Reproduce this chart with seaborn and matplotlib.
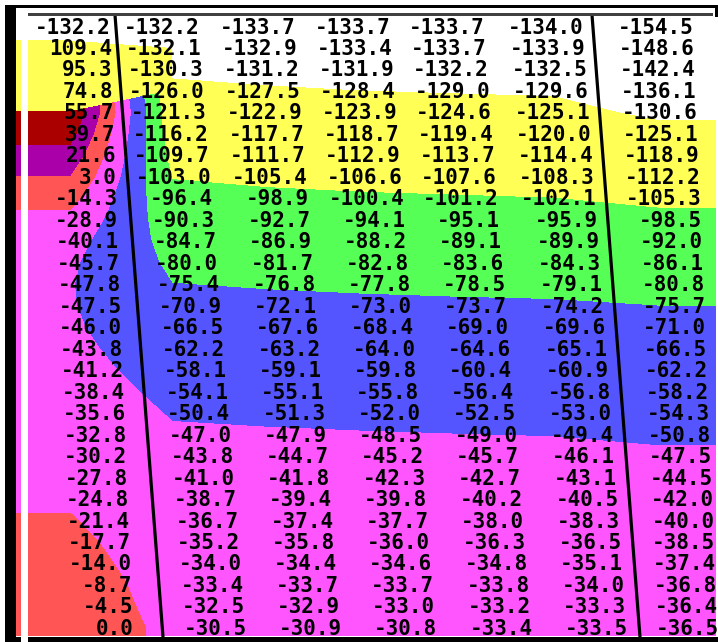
import numpy as np
import matplotlib
matplotlib.use("Agg")
import matplotlib.pyplot as plt
from matplotlib.patches import Rectangle
import seaborn as sns

# Table values, one list per column (top row first)
col_0 = [-132.2, 109.4, 95.3, 74.8, 55.7, 39.7, 21.6, 3.0, -14.3, -28.9, -40.1, -45.7,
         -47.8, -47.5, -46.0, -43.8, -41.2, -38.4, -35.6, -32.8, -30.2, -27.8, -24.8,
         -21.4, -17.7, -14.0, -8.7, -4.5, 0.0]
col_1 = [-132.2, -132.1, -130.3, -126.0, -121.3, -116.2, -109.7, -103.0, -96.4, -90.3,
         -84.7, -80.0, -75.4, -70.9, -66.5, -62.2, -58.1, -54.1, -50.4, -47.0, -43.8,
         -41.0, -38.7, -36.7, -35.2, -34.0, -33.4, -32.5, -30.5]
col_2 = [-133.7, -132.9, -131.2, -127.5, -122.9, -117.7, -111.7, -105.4, -98.9, -92.7,
         -86.9, -81.7, -76.8, -72.1, -67.6, -63.2, -59.1, -55.1, -51.3, -47.9, -44.7,
         -41.8, -39.4, -37.4, -35.8, -34.4, -33.7, -32.9, -30.9]
col_3 = [-133.7, -133.4, -131.9, -128.4, -123.9, -118.7, -112.9, -106.6, -100.4, -94.1,
         -88.2, -82.8, -77.8, -73.0, -68.4, -64.0, -59.8, -55.8, -52.0, -48.5, -45.2,
         -42.3, -39.8, -37.7, -36.0, -34.6, -33.7, -33.0, -30.8]
col_4 = [-133.7, -133.7, -132.2, -129.0, -124.6, -119.4, -113.7, -107.6, -101.2, -95.1,
         -89.1, -83.6, -78.5, -73.7, -69.0, -64.6, -60.4, -56.4, -52.5, -49.0, -45.7,
         -42.7, -40.2, -38.0, -36.3, -34.8, -33.8, -33.2, -33.4]
col_5 = [-134.0, -133.9, -132.5, -129.6, -125.1, -120.0, -114.4, -108.3, -102.1, -95.9,
         -89.9, -84.3, -79.1, -74.2, -69.6, -65.1, -60.9, -56.8, -53.0, -49.4, -46.1,
         -43.1, -40.5, -38.3, -36.5, -35.1, -34.0, -33.3, -33.5]
col_6 = [-154.5, -148.6, -142.4, -136.1, -130.6, -125.1, -118.9, -112.2, -105.3, -98.5,
         -92.0, -86.1, -80.8, -75.7, -71.0, -66.5, -62.2, -58.2, -54.3, -50.8, -47.5,
         -44.5, -42.0, -40.0, -38.5, -37.4, -36.8, -36.4, -36.5]

# Colour bands of the shaded field; values above the last edge use the overflow colour
band_edges = [-200.0, -128.3, -102.0, -75.5, -49.0, -22.5, 4.0, 30.5, 57.0]
band_colours = sns.color_palette(["#FFFFFF", "#FFFF55", "#55FF55", "#5555FF",
                                  "#FF55FF", "#FF5555", "#AA00AA", "#AA0000"])
overflow_colour = "#FFFF55"

sns.set_theme(style="white")

W, H = 718, 642
fig = plt.figure(figsize=(W / 100, H / 100), dpi=100)
fig.patch.set_facecolor("white")
ax = fig.add_axes([0, 0, 1, 1])

columns = [col_0, col_1, col_2, col_3, col_4, col_5, col_6]
table = np.column_stack(columns).astype(float)
n_rows = table.shape[0]

# Screen layout (pixel units)
row_y = 26 + 21.48 * np.arange(n_rows)
field_x = np.array([70, 172, 266, 360, 455, 553, 659], dtype=float)
field_y = row_y.copy()
field_y[0] = 40
FX = np.concatenate([[16], field_x, [716]])
FY = np.concatenate([[16], field_y, [636]])
XX, YY = np.meshgrid(FX, FY)
Z = np.ma.masked_greater(np.pad(table, 1, mode="edge"), band_edges[-1])

# overflow cells show through as the base colour of the field
ax.add_patch(Rectangle((FX[0], FY[0]), FX[-1] - FX[0], FY[-1] - FY[0],
                       facecolor=overflow_colour, edgecolor="none", zorder=0.5))
ax.contourf(XX, YY, Z, levels=band_edges, colors=band_colours, antialiased=False, zorder=1)

# white rule down the left side
ax.add_patch(Rectangle((21, 8), 7, 634, facecolor="white", edgecolor="none", zorder=2))

# slanted column separators
for xs in ([115, 163], [592, 640]):
    sns.lineplot(x=xs, y=[15, 637], color="black", linewidth=2.3, ax=ax,
                 sort=False, zorder=3)

# numbers, right aligned, with columns leaning to the right
text_right_top = [111, 200, 296, 391, 485, 584, 694]
text_right_bottom = [134, 247, 342, 437, 533, 628, 719]
for j, col in enumerate(columns):
    xr = np.interp(row_y, [row_y[0], row_y[-1]], [text_right_top[j], text_right_bottom[j]])
    for i, v in enumerate(col):
        ax.text(xr[i], row_y[i] + 7.5, f"{v:.1f}", ha="right", va="baseline",
                fontsize=15, fontweight="bold", family="DejaVu Sans Mono",
                color="black", zorder=4)

# window frame
frame = [((5, 8), 11, 634, "black"),
         ((5, 4.5), 713, 3.5, "black"),
         ((28, 13), 685, 3, "#404040"),
         ((714.5, 4.5), 3.5, 12, "black"),
         ((5, 636.5), 713, 5.5, "black"),
         ((21, 632), 7, 10, "white")]
for xy, w, h, c in frame:
    ax.add_patch(Rectangle(xy, w, h, facecolor=c, edgecolor="none", zorder=5))

ax.set_xlim(0, W)
ax.set_ylim(H, 0)
ax.axis("off")
if ax.get_legend() is not None:
    ax.get_legend().remove()

fig.savefig("out.png", dpi=100, facecolor="white")
